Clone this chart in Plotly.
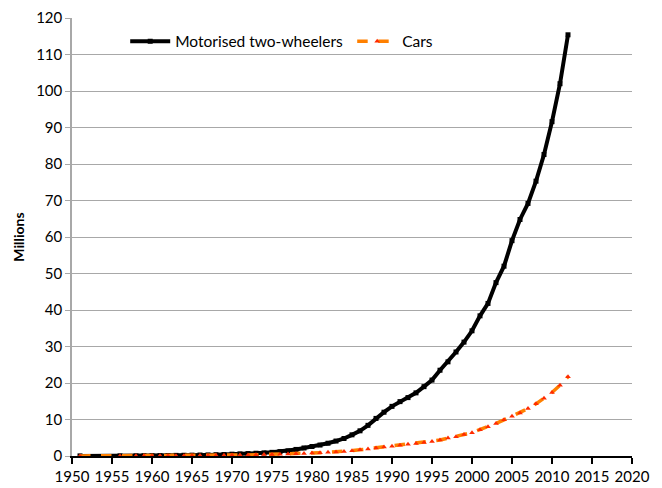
import plotly.graph_objects as go

years = [1951, 1956] + list(range(1958, 2013))

two_wheelers = [0.03, 0.04, 0.05, 0.07, 0.09, 0.11, 0.14, 0.17, 0.20, 0.23,
                0.27, 0.30, 0.35, 0.40, 0.50, 0.58, 0.66, 0.76, 0.86, 1.0,
                1.2, 1.4, 1.8, 2.2, 2.6, 3.0, 3.5, 4.1, 4.8, 5.8,
                6.9, 8.4, 10.3, 12.0, 13.6, 14.9, 16.0, 17.3, 19.0, 20.8,
                23.5, 25.8, 28.5, 31.2, 34.3, 38.4, 41.8, 47.5, 52.0, 59.0,
                64.8, 69.2, 75.3, 82.6, 91.6, 102.0, 115.4]

cars = [0.02, 0.03, 0.04, 0.05, 0.06, 0.07, 0.08, 0.09, 0.10, 0.12,
        0.14, 0.16, 0.18, 0.21, 0.24, 0.27, 0.30, 0.34, 0.38, 0.42,
        0.48, 0.55, 0.62, 0.70, 0.80, 0.90, 1.0, 1.1, 1.25, 1.45,
        1.7, 1.95, 2.2, 2.45, 2.7, 2.95, 3.2, 3.45, 3.7, 3.95,
        4.4, 4.9, 5.3, 5.9, 6.4, 7.2, 8.0, 8.9, 9.9, 10.9,
        11.8, 13.0, 14.3, 15.8, 17.4, 19.4, 21.7]

x_ticks = list(range(1950, 2021, 5))
y_ticks = list(range(0, 121, 10))

font_family = "Lato, 'Open Sans', sans-serif"

fig = go.Figure()
fig.add_trace(go.Scatter(
    x=years, y=two_wheelers, name="Motorised two-wheelers",
    mode="lines+markers",
    line=dict(color="#000000", width=4),
    marker=dict(symbol="square", size=5, color="#000000"),
))
fig.add_trace(go.Scatter(
    x=years, y=cars, name="Cars",
    mode="lines+markers",
    line=dict(color="#FF8000", width=3.5, dash="dash"),
    marker=dict(symbol="triangle-up", size=5, color="#FF2A00"),
))

fig.update_layout(
    width=662, height=488,
    margin=dict(l=72, r=30, t=18, b=32),
    paper_bgcolor="white", plot_bgcolor="white",
    font=dict(family=font_family, size=15, color="#000000"),
    showlegend=True,
    legend=dict(
        orientation="h", x=0.095, y=0.985, xanchor="left", yanchor="top",
        bgcolor="rgba(255,255,255,0)", font=dict(size=15.5, color="#000000"),
        entrywidth=172, entrywidthmode="pixels",
        itemwidth=40,
    ),
)
fig.update_xaxes(
    range=[1950, 2020], tickvals=x_ticks, ticktext=[str(v) for v in x_ticks],
    showgrid=False, showline=True, linecolor="#000000", linewidth=2,
    ticks="outside", ticklen=6, tickwidth=2, tickcolor="#000000",
    zeroline=False, tickfont=dict(size=15), automargin=False,
)
fig.update_yaxes(
    range=[0, 120], tickvals=y_ticks,
    showgrid=True, gridcolor="#A8A8A8", gridwidth=1,
    showline=True, linecolor="#A8A8A8", linewidth=1.5,
    ticks="outside", ticklen=5, tickcolor="#A8A8A8",
    zeroline=False, tickfont=dict(size=15), automargin=False,
    title=dict(text="<b>Millions</b>", font=dict(size=14), standoff=8),
)

fig.write_html(
    "out.html",
    config={"displayModeBar": False},
    post_script="document.body.style.margin='0';document.body.style.overflow='hidden';",
)
